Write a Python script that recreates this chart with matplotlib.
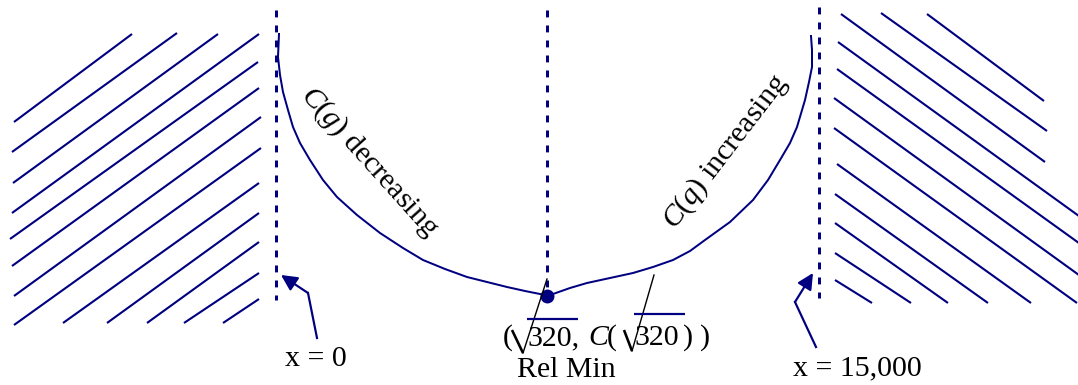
import matplotlib
matplotlib.use("Agg")
import matplotlib.pyplot as plt

# ---- data (diagram coordinates, pixel-like units: x right, y down) ----
W, H = 1078, 385
NAVY = "#000080"

# cost curve C(q)
curve_x = [279, 278, 280, 283, 288, 293, 300, 310, 323, 337, 357, 380, 403,
           423, 445, 467, 487, 507, 525, 540, 547, 553, 570, 587, 610, 633,
           653, 673, 690, 705, 730, 753, 768, 780, 790, 797, 805, 809, 812,
           812, 811]
curve_y = [34, 57, 75, 92, 110, 127, 143, 160, 180, 197, 215, 233, 248,
           260, 269, 277, 282, 287, 291, 294, 296, 294, 288, 283, 278, 273,
           267, 260, 251, 240, 222, 200, 180, 160, 143, 127, 100, 82, 67,
           50, 36]

# relative minimum point
min_x = [547]
min_y = [296]

# vertical dashed boundaries: x, y_top, y_bottom
vlines_x = [276, 547, 819]
vlines_top = [10, 10, 7]
vlines_bot = [300, 296, 298]

# left hatch lines (x0, y0, x1, y1)
left_x0 = [14, 12, 13, 12, 10, 12, 14, 14, 63, 107, 147, 184, 223]
left_y0 = [122, 152, 183, 213, 239, 266, 296, 325, 323, 323, 323, 323, 323]
left_x1 = [132, 177, 218, 259, 258, 259, 261, 261, 259, 259, 259, 259, 259]
left_y1 = [34, 33, 34, 34, 62, 88, 117, 148, 183, 213, 242, 273, 299]

# right hatch lines
right_x0 = [927, 881, 841, 838, 837, 834, 834, 837, 835, 835, 835, 835]
right_y0 = [14, 13, 14, 42, 69, 98, 128, 164, 194, 223, 253, 280]
right_x1 = [1044, 1047, 1045, 1090, 1090, 1090, 1077, 1031, 988, 948, 911, 872]
right_y1 = [101, 131, 162, 224, 251, 283, 303, 303, 303, 303, 303, 303]

# arrows: start, bend, tip
arrow_x = [[317, 308, 281], [816, 795, 813]]
arrow_y = [[338, 293, 275], [347, 302, 273]]

# labels
labels = ["x = 0", "x = 15,000", "Rel Min"]
label_x = [285, 793, 566]
label_y = [366, 375, 370]

# rotated labels
rot_labels = [r"$\mathit{C(g)}$ decreasing", r"$\mathit{C(q)}$ increasing"]
rot_x = [369, 726]
rot_y = [162, 152]
rot_angle = [-48, 52.5]

# min-point label pieces
formula_parts = ["(", "320,", "C", "(", "320", ")", ")"]
formula_x = [503, 527, 588, 607, 634, 683, 700]
formula_italic = [False, False, True, False, False, False, False]
formula_base = 345

# radical signs of the min-point label: (down-stroke start, bottom, top)
rad_x = [[512, 523, 547], [624, 632, 654]]
rad_y = [[330, 353, 279], [330, 351, 275]]
bar_x = [[527, 578], [634, 685]]
bar_y = [319, 314]

FS = 21.5
FONT = "Liberation Serif"
plt.rcParams["mathtext.fontset"] = "custom"
plt.rcParams["mathtext.rm"] = "Liberation Serif"
plt.rcParams["mathtext.it"] = "Liberation Serif:italic"

fig = plt.figure(figsize=(W / 100, H / 100), dpi=100)
ax = fig.add_axes([0, 0, 1, 1])
ax.set_xlim(0, W)
ax.set_ylim(H, 0)
ax.axis("off")

px = 72 / 100  # points per pixel

# hatch lines
for x0, y0, x1, y1 in zip(left_x0, left_y0, left_x1, left_y1):
    ax.plot([x0, x1], [y0, y1], color=NAVY, lw=2.1 * px, solid_capstyle="butt")
for x0, y0, x1, y1 in zip(right_x0, right_y0, right_x1, right_y1):
    ax.plot([x0, x1], [y0, y1], color=NAVY, lw=2.1 * px, solid_capstyle="butt")

# dashed verticals
for x, t, b in zip(vlines_x, vlines_top, vlines_bot):
    ax.plot([x, x], [t, b], color=NAVY, lw=3 * px, dashes=(2.3, 2.7),
            dash_capstyle="butt")

# curve
ax.plot(curve_x, curve_y, color=NAVY, lw=2 * px, solid_joinstyle="round")
ax.plot(min_x, min_y, "o", color=NAVY, ms=9)

# arrows
for xs, ys in zip(arrow_x, arrow_y):
    ax.plot(xs[:2], ys[:2], color=NAVY, lw=2.2 * px)
    ax.annotate("", xy=(xs[2], ys[2]), xytext=(xs[1], ys[1]),
                arrowprops=dict(arrowstyle="-|>", color=NAVY, lw=2.2 * px,
                                mutation_scale=24, shrinkA=0, shrinkB=0))

# labels
ax.text(label_x[0], label_y[0], labels[0], fontsize=FS, family=FONT,
        ha="left", va="baseline")
ax.text(label_x[1], label_y[1], labels[1], fontsize=FS, family=FONT,
        ha="left", va="baseline")
ax.text(label_x[2], label_y[2], labels[2], fontsize=FS, family=FONT,
        ha="center", va="center")

for s, x, y, a in zip(rot_labels, rot_x, rot_y, rot_angle):
    ax.text(x, y, s, fontsize=FS, family=FONT, rotation=a,
            rotation_mode="anchor", ha="center", va="center")

for s, x, it in zip(formula_parts, formula_x, formula_italic):
    ax.text(x, formula_base, s, fontsize=FS, family=FONT,
            style="italic" if it else "normal", ha="left", va="baseline")

for xs, ys in zip(rad_x, rad_y):
    ax.plot(xs[:2], ys[:2], color="black", lw=2.6 * px, solid_capstyle="butt")
    ax.plot(xs[1:], ys[1:], color="black", lw=1.4 * px)
for xs, y in zip(bar_x, bar_y):
    ax.plot(xs, [y, y], color=NAVY, lw=2.2 * px, solid_capstyle="butt")

fig.savefig("out.png", dpi=100)
